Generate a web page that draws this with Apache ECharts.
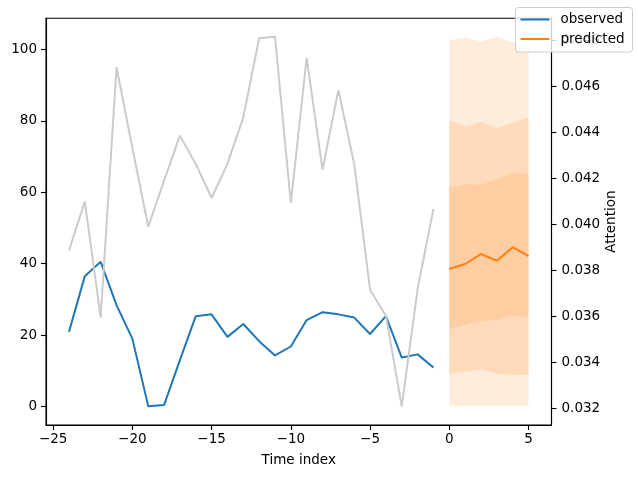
<!DOCTYPE html>
<html>
<head>
<meta charset="utf-8">
<script src="https://cdn.jsdelivr.net/npm/echarts@6/dist/echarts.min.js"></script>
<style>html,body{margin:0;padding:0;background:#fff}#c{width:638px;height:478px}</style>
</head>
<body>
<div id="c"></div>
<script>
// ---- data ----
const xObserved = [-24,-23,-22,-21,-20,-19,-18,-17,-16,-15,-14,-13,-12,-11,-10,-9,-8,-7,-6,-5,-4,-3,-2,-1];
const observed = [20.9,36.5,40.5,28.4,19.0,0.1,0.4,13.0,25.3,25.8,19.5,23.1,18.3,14.3,16.8,24.2,26.4,25.8,24.9,20.3,25.3,13.7,14.6,10.9];
const attention = [0.03886,0.04099,0.03596,0.04683,0.04333,0.03990,0.04190,0.04386,0.04263,0.04115,0.04263,0.04465,0.04809,0.04816,0.04093,0.04724,0.04238,0.04584,0.04263,0.03716,0.03603,0.03209,0.03719,0.04067];
const xPredicted = [0,1,2,3,4,5];
const predicted = [38.5,39.9,42.7,40.8,44.6,42.1];
const q02 = [0.2,0.2,0.2,0.2,0.2,0.2];
const q10 = [9.2,9.7,10.4,9.2,8.8,8.9];
const q25 = [21.7,22.8,23.9,24.2,25.6,24.9];
const q75 = [61.2,62.2,62.0,63.7,65.3,65.1];
const q90 = [80.2,78.5,79.7,78.0,79.4,81.0];
const q98 = [102.6,103.2,102.2,103.5,101.9,100.7];
const xTicks = [-25,-20,-15,-10,-5,0,5];
const leftTicks = [0,20,40,60,80,100];
const rightTicks = [0.032,0.034,0.036,0.038,0.040,0.042,0.044,0.046,0.048];

// ---- chart ----
const font = 'DejaVu Sans';
const fs = 13.5;
const pairs = (xs, ys) => xs.map((x, i) => [x, ys[i]]);
const minus = v => (v < 0 ? '\u2212' + (-v) : String(v));
const bands = [[q02, q98], [q10, q90], [q25, q75]];

const chart = echarts.init(document.getElementById('c'), null, {renderer: 'canvas'});
chart.setOption({
  animation: false,
  backgroundColor: '#ffffff',
  textStyle: {fontFamily: font},
  grid: {left: 46, right: 86.5, top: 18.3, bottom: 53, show: true, borderColor: '#000', borderWidth: 1.1, backgroundColor: 'transparent'},
  legend: {
    data: ['observed', 'predicted'],
    orient: 'vertical', left: 515.5, top: 7.5,
    width: 115, itemWidth: 29, itemHeight: 2, itemGap: 5.5,
    icon: 'rect',
    padding: [5, 8, 6, 5],
    backgroundColor: 'rgba(255,255,255,0.8)',
    borderColor: '#cccccc', borderWidth: 1, borderRadius: 3,
    textStyle: {fontFamily: font, fontSize: fs, color: '#000', padding: [0, 0, 0, 6]},
    selectedMode: false, z: 10
  },
  xAxis: {
    type: 'value', min: -25.45, max: 6.45,
    name: 'Time index', nameLocation: 'middle', nameGap: 28, nameMoveOverlap: false,
    nameTextStyle: {fontFamily: font, fontSize: fs, color: '#000'},
    axisLine: {show: true, onZero: false, lineStyle: {color: '#000', width: 1.1}},
    axisTick: {show: true, length: 5, customValues: xTicks, lineStyle: {color: '#000', width: 1.1}},
    axisLabel: {customValues: xTicks, formatter: minus, fontFamily: font, fontSize: fs, color: '#000', margin: 7},
    splitLine: {show: false}
  },
  yAxis: [{
    type: 'value', min: -5.18, max: 108.7, position: 'left',
    axisLine: {show: true, onZero: false, lineStyle: {color: '#000', width: 1.1}},
    axisTick: {show: true, length: 5, customValues: leftTicks, lineStyle: {color: '#000', width: 1.1}},
    axisLabel: {customValues: leftTicks, fontFamily: font, fontSize: fs, color: '#000', margin: 9},
    splitLine: {show: false}
  }, {
    type: 'value', min: 0.03128, max: 0.04896, position: 'right',
    name: 'Attention', nameLocation: 'middle', nameRotate: 90, nameGap: 53, nameMoveOverlap: false,
    nameTextStyle: {fontFamily: font, fontSize: fs, color: '#000'},
    axisLine: {show: true, onZero: false, lineStyle: {color: '#000', width: 1.1}},
    axisTick: {show: true, length: 5, customValues: rightTicks, lineStyle: {color: '#000', width: 1.1}},
    axisLabel: {customValues: rightTicks, formatter: v => v.toFixed(3), fontFamily: font, fontSize: fs, color: '#000', margin: 10},
    splitLine: {show: false}
  }],
  series: [
    {type: 'custom', name: 'bands', silent: true, yAxisIndex: 0, z: 1,
     data: bands.map((b, k) => [xPredicted[0], b[0][0]]),
     encode: {x: 0, y: 1},
     renderItem: function (params, api) {
       const b = bands[params.dataIndex];
       const top = xPredicted.map((x, i) => api.coord([x, b[1][i]]));
       const bot = xPredicted.map((x, i) => api.coord([x, b[0][i]])).reverse();
       return {type: 'polygon', shape: {points: top.concat(bot)}, style: {fill: 'rgba(255,127,14,0.15)'}};
     }},
    {type: 'line', name: 'observed', data: pairs(xObserved, observed), yAxisIndex: 0, symbol: 'none',
     itemStyle: {color: '#1f77b4'}, lineStyle: {color: '#1f77b4', width: 2}, z: 3},
    {type: 'line', name: 'predicted', data: pairs(xPredicted, predicted), yAxisIndex: 0, symbol: 'none',
     itemStyle: {color: '#ff7f0e'}, lineStyle: {color: '#ff7f0e', width: 2}, z: 3},
    {type: 'line', name: 'attention', data: pairs(xObserved, attention), yAxisIndex: 1, symbol: 'none',
     itemStyle: {color: '#d3d3d3'}, lineStyle: {color: '#cbcbcb', width: 2}, z: 4}
  ]
});
</script>
</body>
</html>
